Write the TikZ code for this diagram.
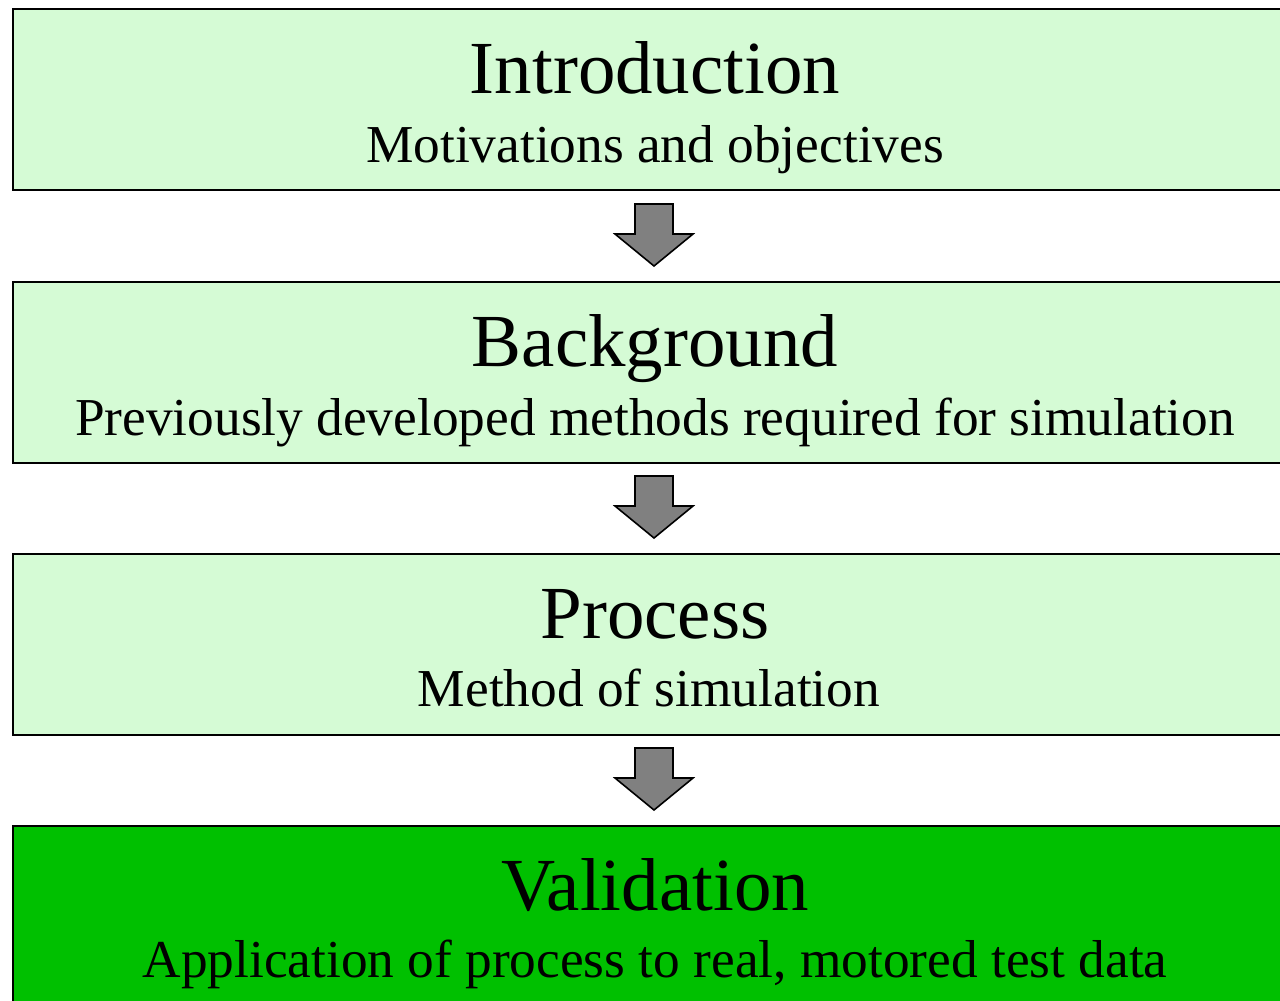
\documentclass[tikz,border=0pt]{standalone}
\usepackage{fontspec}
\setmainfont{Liberation Serif}
\definecolor{lightgr}{HTML}{D5FBD5}
\definecolor{darkgr}{HTML}{00C000}
\definecolor{arrowgr}{HTML}{808080}
\begin{document}
\begin{tikzpicture}[x=0.75pt,y=-0.75pt,
  sect/.style={draw=black,line width=1.5pt,minimum width=1290*0.75pt,minimum height=181*0.75pt,inner sep=0pt,anchor=north west},
  ttl/.style={font=\fontsize{56.2}{58}\selectfont,anchor=base},
  sub/.style={font=\fontsize{40}{42}\selectfont,anchor=base},
  blk/.style={draw=black,line width=1.2pt,fill=arrowgr,line join=miter}]
\useasboundingbox (0,0) rectangle (1280,1000);
\begin{scope}
\clip (0,0) rectangle (1280,1000);
\node[sect,fill=lightgr] (b1) at (12,8) {};
\node[sect,fill=lightgr] (b2) at (12,281) {};
\node[sect,fill=lightgr] (b3) at (12,553) {};
\node[sect,fill=darkgr] (b4) at (12,825) {};
\end{scope}
\node[ttl] (t1) at (655,93) {Introduction};
\node[sub] (s1) at (655,162) {Motivations and objectives};
\node[ttl] (t2) at (655,366) {Background};
\node[sub] (s2) at (655,435) {Previously developed methods required for simulation};
\node[ttl] (t3) at (655,638) {Process};
\node[sub] (s3) at (649,706) {Method of simulation};
\node[ttl] (t4) at (655,910) {Validation};
\node[sub] (s4) at (655,977) {Application of process to real, motored test data};
\foreach \i/\y in {1/204,2/476,3/748}{
  \coordinate (a\i) at (654,\y);
  \draw[blk] (a\i) ++(-19,0) -- ++(38,0) -- ++(0,30) -- ++(20,0) -- ++(-39,32) -- ++(-39,-32) -- ++(20,0) -- cycle;
}
\end{tikzpicture}
\end{document}
